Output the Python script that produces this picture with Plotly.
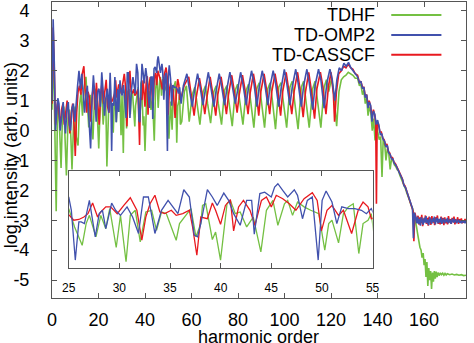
import numpy as np
import plotly.graph_objects as go

# ---------------- data: (harmonic order, log10 intensity) ----------------
tdhf_onset = [(0, 0.7), (0.55, 2.75), (1.1, 0.6), (1.8, -2.7), (2.4, 0.9), (3.0, 0.6), (3.9, -1.25),
              (4.5, 0.5), (5.1, 0.8), (5.6, -0.1), (6.2, -1.5), (6.9, 0.4), (7.5, 0.7), (8.1, -0.2),
              (8.6, -1.3), (9.3, 0.3), (9.9, 0.8), (10.4, -0.2), (11.2, -0.5), (11.8, 0.8), (12.5, 1.3),
              (13.1, 0.5), (13.8, 1.4), (14.6, 1.8), (15.2, 0.9), (15.8, 0.1), (16.4, 1.2), (17.0, 0.6),
              (17.6, -0.3), (18.3, 1.1), (18.9, 1.4), (19.5, 0.5), (20.1, -0.6), (20.8, 1.0), (21.4, 1.3),
              (22.0, 0.2), (22.6, 0.9), (23.1, 1.1), (23.6, -1.2), (24.3, 0.6)]
tdhf_mid = [(25.0, 1.45), (25.58, 0.69), (26.33, -0.07), (26.72, 0.83), (27.04, 1.17), (27.69, 0.28),
            (28.17, 1.17), (28.66, 0.62), (29.05, 1.45), (29.69, -0.16), (30.11, 1.17), (30.66, -0.75),
            (31.08, 1.17), (31.57, 1.38), (32.06, 0.07), (32.61, 1.31), (33.19, 1.38), (33.67, 0.55),
            (34.16, 1.31), (34.64, 1.24), (35.61, 0.14), (35.94, 0.83), (36.42, 1.10), (37.07, 1.45),
            (37.56, 0.28), (38.04, 0.83), (38.21, 1.58), (38.53, 1.65), (39.18, 0.17), (39.5, 0.48),
            (39.99, -0.68), (40.63, 1.65), (40.96, 1.79), (41.44, 1.24), (41.93, 1.31), (42.57, 0.69),
            (43.22, 1.10), (43.97, -0.34), (44.52, 1.38), (45.16, 1.79), (45.65, 0.76), (46.3, 1.65),
            (46.62, 1.79), (47.1, 1.17), (47.59, 1.72), (48.24, 1.52), (48.89, 1.38), (49.69, 1.24),
            (50.28, -0.27), (50.67, 0.83), (50.99, 0.97), (51.64, 0.03), (52.12, 1.24), (52.61, 1.52),
            (53.09, 1.65), (53.64, -0.41), (54.06, 0.83), (54.55, 0.97), (54.87, 1.24)]
tdhf_plateau = [(55.2, 0.2), (55.8, 0.3), (56.9, 1.3), (57.8, 1.5), (59.0, 0.3), (60.3, 1.2), (61.4, 1.45),
                (62.3, 0.9), (63.6, 0.2), (65.0, 1.3), (66.0, 1.5), (66.9, 0.9), (68.2, 0.25), (69.6, 1.3),
                (70.6, 1.5), (71.5, 0.9), (72.9, 0.2), (74.2, 1.35), (75.2, 1.5), (76.1, 0.95), (77.5, 0.15),
                (78.8, 1.35), (79.8, 1.55), (80.7, 1.0), (82.1, 0.2), (83.5, 1.35), (84.5, 1.55), (85.4, 1.0),
                (86.8, 0.1), (88.1, 1.4), (89.1, 1.6), (90.0, 1.0), (91.4, 0.1), (92.8, 1.4), (93.8, 1.6),
                (94.7, 1.05), (96.1, 0.05), (97.5, 1.45), (98.5, 1.6), (99.4, 1.0), (100.9, 0.1), (102.3, 1.45),
                (103.3, 1.65), (104.2, 1.05), (105.8, 0.05), (107.2, 1.45), (108.2, 1.65), (109.1, 1.05),
                (110.6, 0.1), (112.1, 1.4), (113.1, 1.65), (114.0, 1.1), (115.6, 0.1), (117.0, 1.45),
                (118.0, 1.7), (119.0, 1.3), (120.2, 1.75), (121.2, 1.2), (122.4, 0.15), (123.4, 1.3),
                (124.4, 1.7), (125.4, 1.8), (126.4, 1.85), (127.4, 1.95), (128.4, 1.9), (129.4, 1.85),
                (130.4, 1.75)]
tdhf_cutoff = [(131.4, 1.75), (132.2, 1.5), (132.8, 1.55), (133.5, 1.2), (134.1, 1.35), (134.7, 0.9),
               (135.3, 1.1), (135.9, 0.5), (136.5, 0.8), (137.1, 0.6), (137.7, 0.0), (138.3, 0.4),
               (138.9, -0.33), (139.5, 0.2), (140.1, 0.0), (140.7, -0.3), (141.3, -0.2), (141.9, -1.55),
               (142.4, -0.3), (143.0, -0.4), (143.6, -1.0), (144.2, -0.6), (144.8, -0.75), (145.4, -1.3),
               (146.0, -0.95), (146.6, -1.0), (147.2, -1.15), (147.8, -1.2), (148.4, -1.3), (149.0, -1.35),
               (149.6, -1.5), (150.2, -1.6), (150.8, -1.7), (151.4, -1.85), (152.0, -1.95), (152.6, -2.1),
               (153.2, -2.2), (153.8, -2.35), (154.4, -2.5), (155.0, -2.6), (155.6, -2.8), (156.2, -3.0),
               (156.7, -3.2), (157.2, -3.45), (157.7, -3.7), (158.2, -3.9), (158.7, -4.0), (159.1, -4.25),
               (159.6, -4.1), (160.0, -4.5), (160.4, -4.3), (160.8, -4.9), (161.2, -4.4), (161.6, -5.2),
               (162.0, -4.6), (162.4, -5.0), (162.8, -4.7), (163.2, -5.3), (163.6, -4.75), (164.0, -5.05),
               (164.4, -4.7), (164.8, -4.95), (165.2, -4.72), (165.6, -4.9), (166.0, -4.75), (166.5, -4.85),
               (167.0, -4.76), (167.5, -4.82), (168.0, -4.77), (168.5, -4.84), (169.0, -4.78), (169.5, -4.83),
               (170.0, -4.79), (171.0, -4.82), (172.0, -4.8), (173.0, -4.83), (174.0, -4.81), (175.0, -4.84),
               (176.0, -4.82), (177.0, -4.85), (178.0, -4.84)]

omp2_onset = [(0, 1.0), (0.5, 3.72), (1.0, 2.2), (1.5, 0.0), (2.0, 0.6), (2.5, 1.08), (3.0, 0.9), (3.5, 0.0),
              (4.2, 0.5), (4.8, 0.95), (5.3, 0.4), (5.8, -0.1), (6.4, 0.7), (7.0, 0.95), (7.5, 0.2), (8.0, 0.0),
              (8.6, 0.75), (9.2, 0.9), (9.8, 0.3), (10.4, 1.0), (11.0, 1.5), (11.6, 2.0), (12.2, 1.4),
              (12.8, 1.9), (13.4, 1.3), (14.0, 0.6), (14.6, 1.2), (15.2, 1.5), (15.8, 0.5), (16.6, -0.6),
              (17.2, 1.0), (17.8, 1.85), (18.4, 1.2), (19.0, 0.3), (19.6, 1.3), (20.2, 1.4), (20.8, 0.8),
              (21.4, 1.95), (22.0, 1.3), (22.6, 0.5), (23.2, 1.1), (23.8, 1.4), (24.4, 0.6)]
omp2_mid = [(25.0, 1.93), (25.26, 1.38), (25.65, -0.68), (26.0, 0.9), (26.23, 0.90), (26.55, 0.83),
            (27.04, 1.79), (27.62, 0.28), (28.01, 1.24), (28.33, 1.38), (28.66, 0.62), (29.24, 1.68),
            (29.63, 1.38), (30.11, 1.17), (30.76, 1.52), (31.31, 1.10), (31.89, 0.42), (32.38, 1.93),
            (32.86, 1.93), (33.51, 0.42), (34.16, 1.38), (34.81, 1.79), (35.29, 1.52), (35.78, 1.24),
            (36.36, 2.23), (36.91, 1.93), (37.39, 0.35), (37.72, 0.28), (38.04, 0.83), (38.69, 2.23),
            (39.18, 1.93), (39.66, 1.58), (40.31, 2.09), (40.79, 1.79), (41.28, 1.24), (41.93, 0.76),
            (42.57, 1.79), (43.06, 1.79), (43.32, 0.39), (43.87, 2.07), (44.35, 2.13), (45.0, 1.93),
            (45.33, 2.34), (45.65, 2.48), (46.13, 2.20), (46.62, 1.93), (47.27, 2.23), (47.59, 2.0),
            (48.08, 1.03), (48.56, 1.79), (49.05, 1.93), (49.63, -0.68), (50.02, 1.79), (50.41, 2.18),
            (50.99, 1.72), (51.47, 0.83), (51.96, 1.52), (52.61, 1.45), (53.25, 1.45), (53.9, 1.38),
            (54.39, 1.24), (54.87, 1.45)]
omp2_plateau = [(55.5, 0.9), (56.5, 1.5), (58.0, 1.9), (59.0, 1.4), (60.3, 0.8), (61.2, 1.3), (62.6, 1.9),
                (63.6, 1.5), (64.9, 0.85), (65.8, 1.3), (67.2, 1.95), (68.2, 1.5), (69.6, 0.8), (70.5, 1.3),
                (71.9, 1.9), (72.9, 1.5), (74.2, 0.85), (75.1, 1.35), (76.5, 1.95), (77.5, 1.5), (78.8, 0.9),
                (79.7, 1.3), (81.1, 1.95), (82.1, 1.55), (83.5, 0.85), (84.4, 1.4), (85.8, 2.0), (86.8, 1.6),
                (88.1, 0.8), (89.0, 1.4), (90.4, 2.0), (91.4, 1.6), (92.8, 0.85), (93.7, 1.45), (95.1, 2.0),
                (96.1, 1.6), (97.5, 0.8), (98.5, 1.4), (99.9, 2.05), (100.9, 1.6), (102.3, 0.85), (103.3, 1.45),
                (104.8, 2.05), (105.8, 1.6), (107.2, 0.8), (108.2, 1.5), (109.6, 2.05), (110.6, 1.6),
                (112.1, 0.7), (113.1, 1.5), (114.6, 2.05), (115.6, 1.7), (117.0, 0.75), (118.2, 1.6),
                (119.5, 2.05), (120.5, 1.7), (121.6, 1.0), (122.5, 1.7), (123.5, 2.1), (124.5, 2.0),
                (125.5, 2.25), (126.5, 2.15), (127.5, 2.28), (128.5, 2.1), (129.5, 2.0), (130.5, 1.9)]
omp2_cutoff = [(131.4, 1.8), (132.2, 1.6), (132.8, 1.65), (133.5, 1.4), (134.1, 1.45), (134.7, 1.1),
               (135.3, 1.2), (135.9, 0.75), (136.4, 0.95), (137.0, 0.85), (137.6, 0.3), (138.2, 0.65),
               (138.8, 0.55), (139.4, 0.2), (140.0, 0.35), (140.6, 0.15), (141.2, -0.15), (141.8, -0.1),
               (142.4, -0.3), (143.0, -0.35), (143.6, -0.55), (144.2, -0.5), (144.8, -0.75), (145.4, -0.8),
               (146.0, -0.95), (146.6, -0.95), (147.2, -1.1), (147.8, -1.15), (148.4, -1.25), (149.0, -1.35),
               (149.6, -1.45), (150.2, -1.6), (150.8, -1.65), (151.4, -1.85), (152.0, -1.9), (152.6, -2.05),
               (153.2, -2.2), (153.8, -2.3), (154.4, -2.5), (155.0, -2.6), (155.4, -3.6), (155.8, -2.75),
               (156.3, -2.9), (156.8, -3.1)]
omp2_tail = [-2.88, -3.12, -2.95, -3.18, -2.9, -3.05, -3.15, -2.92, -3.08, -2.86, -3.1, -2.98, -3.16, -2.9,
             -3.04, -3.12, -2.94, -3.06, -2.88, -3.14, -3.0, -2.92, -3.1, -2.96, -3.08, -2.9, -3.12, -3.0,
             -2.94, -3.1, -2.98, -3.06, -2.92, -3.1, -3.02, -2.96, -3.12, -3.0, -2.94, -3.08, -3.02, -2.96,
             -3.1, -3.04, -2.98, -3.08, -3.02, -3.1, -3.0, -3.06, -3.04, -3.1, -3.02]

casscf_onset = [(0, 0.9), (0.5, 3.45), (1.0, 2.0), (1.5, 0.2), (2.0, 0.7), (2.5, 1.0), (3.0, 0.6), (3.5, 0.1),
                (4.1, 0.7), (4.7, 0.9), (5.3, 0.2), (5.9, 0.6), (6.5, 1.0), (7.1, 0.5), (7.7, -0.1), (8.3, 0.6),
                (8.9, 0.9), (9.5, 0.2), (10.0, -0.85), (10.6, 0.6), (11.2, 1.3), (11.8, 1.5), (12.4, 1.2),
                (13.0, 1.9), (13.7, 2.15), (14.3, 1.3), (14.9, 0.6), (15.5, 1.3), (16.1, 1.1), (16.7, 0.3),
                (17.3, 1.2), (17.9, 1.5), (18.5, 0.7), (19.1, 1.6), (19.7, 1.0), (20.3, 0.2), (20.9, 1.2),
                (21.5, 1.6), (22.1, 0.9), (22.7, 1.4), (23.3, 1.7), (23.9, 0.8), (24.5, 0.6)]
casscf_mid = [(25.0, 1.2), (25.5, 0.97), (26.0, 1.0), (26.5, 1.1), (26.9, 1.24), (27.36, 1.68), (27.85, 1.10),
              (28.17, 1.31), (28.66, 1.52), (29.14, 1.52), (29.79, 1.24), (30.44, 1.58), (31.08, 1.90),
              (31.73, 1.38), (32.22, 0.14), (32.61, 1.10), (33.03, 1.65), (33.51, 2.00), (34.0, 1.31),
              (34.48, 1.24), (35.13, 1.38), (35.61, 1.17), (36.26, 1.24), (36.91, 1.38), (37.23, 0.69),
              (37.65, -0.48), (38.04, 1.10), (38.69, 1.03), (39.18, 1.68), (39.5, 1.38), (39.99, 0.80),
              (40.47, 1.58), (40.96, 1.82), (41.28, 0.53), (41.77, 1.52), (42.25, 1.79), (42.9, 1.38),
              (43.38, 0.76), (44.03, 1.79), (44.52, 1.93), (45.0, 1.52), (45.49, 2.0), (46.13, 1.86),
              (46.78, 1.65), (47.43, 1.38), (48.24, 1.86), (49.05, 2.11), (49.53, 1.79), (49.95, 0.53),
              (50.5, 1.38), (50.99, 1.58), (51.64, 1.17), (52.12, 1.38), (52.93, 0.42), (53.58, 1.38),
              (54.06, 1.72), (54.55, 1.52), (54.87, 1.03)]
casscf_plateau = [(55.5, 1.1), (56.8, 1.5), (58.8, 1.8), (59.8, 1.3), (61.1, 0.5), (62.0, 1.1), (63.4, 1.75),
                  (64.4, 1.3), (65.7, 0.55), (66.6, 1.1), (68.0, 1.8), (69.0, 1.3), (70.4, 0.5), (71.3, 1.2),
                  (72.7, 1.8), (73.7, 1.3), (75.0, 0.55), (75.9, 1.2), (77.3, 1.85), (78.3, 1.35), (79.6, 0.6),
                  (80.5, 1.2), (81.9, 1.85), (82.9, 1.4), (84.3, 0.55), (85.2, 1.25), (86.6, 1.9), (87.6, 1.45),
                  (88.9, 0.5), (89.8, 1.3), (91.2, 1.9), (92.2, 1.4), (93.6, 0.55), (94.5, 1.3), (95.9, 1.9),
                  (96.9, 1.45), (98.3, 0.5), (99.2, 1.3), (100.7, 1.95), (101.7, 1.4), (103.1, 0.55),
                  (104.1, 1.3), (105.6, 1.95), (106.6, 1.4), (108.0, 0.45), (109.0, 1.3), (110.4, 1.95),
                  (111.4, 1.4), (112.9, 0.4), (113.9, 1.4), (115.4, 1.95), (116.4, 1.5), (117.8, 0.55),
                  (118.9, 1.5), (120.0, 1.95), (121.0, 1.2), (121.5, 0.3), (122.3, 1.3), (123.3, 1.9),
                  (124.4, 2.0), (125.4, 2.15), (126.4, 2.1), (127.4, 2.22), (128.4, 2.1), (129.4, 2.05),
                  (130.4, 1.9)]
casscf_cutoff = [(131.4, 1.85), (132.2, 1.6), (132.8, 1.65), (133.5, 1.45), (134.1, 1.45), (134.7, 1.15),
                 (135.3, 1.2), (135.9, 0.85), (136.4, 1.0), (137.0, 0.8), (137.6, 0.45), (138.2, 0.7),
                 (138.8, 0.5), (139.2, 0.2), (139.5, -2.45), (139.8, 0.2), (140.4, 0.2), (141.0, -0.05),
                 (141.6, -0.05), (142.2, -0.25), (142.8, -0.3), (143.4, -0.5), (144.0, -0.45), (144.6, -0.7),
                 (145.2, -0.75), (145.8, -0.9), (146.4, -0.9), (147.0, -1.05), (147.6, -1.1), (148.2, -1.2),
                 (148.8, -1.3), (149.4, -1.4), (150.0, -1.55), (150.6, -1.6), (151.2, -1.8), (151.8, -1.85),
                 (152.4, -2.0), (153.0, -2.15), (153.6, -2.25), (154.2, -2.45), (154.8, -2.55), (155.3, -2.7),
                 (155.6, -3.7), (156.0, -2.75), (156.5, -2.9), (157.0, -3.0)]
casscf_tail = [-2.85, -3.15, -2.9, -3.1, -2.82, -3.2, -2.95, -3.05, -2.84, -3.12, -2.92, -3.18, -2.88, -3.02,
               -3.15, -2.86, -3.08, -2.94, -3.16, -2.9, -3.04, -2.84, -3.12, -2.98, -3.14, -2.88, -3.06, -2.92,
               -3.16, -2.9, -3.1, -2.96, -3.14, -2.86, -3.08, -2.96, -3.12, -2.92, -3.06, -2.88, -3.14, -2.98,
               -3.04, -2.9, -3.12, -2.96, -3.08, -2.94, -3.1, -3.0, -3.08, -2.96, -3.06]

main_xticks = [0, 20, 40, 60, 80, 100, 120, 140, 160]
main_yticks = [-5, -4, -3, -2, -1, 0, 1, 2, 3, 4]
inset_xticks = [25, 30, 35, 40, 45, 50, 55]

names = ["TDHF", "TD-OMP2", "TD-CASSCF"]
colors = {"TDHF": "#74c043", "TD-OMP2": "#4151ad", "TD-CASSCF": "#e8191f"}


def assemble(segments, tail=None, tail_start=None):
    h = [p[0] for seg in segments for p in seg]
    v = [p[1] for seg in segments for p in seg]
    if tail is not None:
        h += list(np.linspace(tail_start, 178.0, len(tail)))
        v += list(tail)
    return np.array(h), np.array(v)


series = {
    "TDHF": assemble([tdhf_onset, tdhf_mid, tdhf_plateau, tdhf_cutoff]),
    "TD-OMP2": assemble([omp2_onset, omp2_mid, omp2_plateau, omp2_cutoff], omp2_tail, 157.2),
    "TD-CASSCF": assemble([casscf_onset, casscf_mid, casscf_plateau, casscf_cutoff], casscf_tail, 157.4),
}

# ---------------- geometry ----------------
W, H = 474, 343
ML, MR, MT, MB = 52, 1, 1, 45
PW, PH = W - ML - MR, H - MT - MB


def fx(x):
    return (x - ML) / PW


def fy(y):
    return (H - MB - y) / PH


FONT = "Liberation Sans, Arial, sans-serif"
FRAME = "#555555"

fig = go.Figure()
draw_order = ["TDHF", "TD-CASSCF", "TD-OMP2"]
for nm in draw_order:
    h, v = series[nm]
    fig.add_trace(go.Scatter(x=h, y=v, mode="lines", line=dict(color=colors[nm], width=1.6),
                             showlegend=False, xaxis="x", yaxis="y"))
for nm in draw_order:
    h, v = series[nm]
    sel = (h >= 24) & (h <= 56)
    fig.add_trace(go.Scatter(x=h[sel], y=v[sel], mode="lines", line=dict(color=colors[nm], width=1.3),
                             showlegend=False, xaxis="x2", yaxis="y2"))

axis_common = dict(showgrid=False, zeroline=False, showline=True, linecolor=FRAME, linewidth=1,
                   mirror="ticks", ticks="inside", ticklen=5, tickcolor=FRAME, tickwidth=1)

fig.update_layout(
    width=W, height=H,
    margin=dict(l=ML, r=MR, t=MT, b=MB, pad=0),
    paper_bgcolor="white", plot_bgcolor="white",
    font=dict(family=FONT, color="black"),
    xaxis=dict(range=[0, PW / 2.365], tickvals=main_xticks, ticktext=[str(t) for t in main_xticks],
               tickfont=dict(size=18), ticklabelstandoff=5, domain=[0, 1], **axis_common),
    yaxis=dict(range=[-5.6, 4.3], tickvals=main_yticks, ticktext=[str(t) for t in main_yticks],
               tickfont=dict(size=18), ticklabelstandoff=18, domain=[0, 1], **axis_common),
    xaxis2=dict(range=[25, 55], tickvals=inset_xticks, ticktext=[str(t) for t in inset_xticks],
                tickfont=dict(size=12), ticklabelstandoff=9, anchor="y2",
                domain=[fx(69), fx(378)], **axis_common),
    yaxis2=dict(range=[-1, 3], showticklabels=False, anchor="x2", domain=[fy(267.7), fy(170.7)],
                showgrid=False, zeroline=False, showline=True, linecolor=FRAME, linewidth=1,
                mirror=True, ticks=""),
)

# axis titles
fig.add_annotation(text="log intensity (arb. units)", textangle=-90, xref="paper", yref="paper",
                   x=fx(11), y=fy(155), xanchor="center", yanchor="middle", showarrow=False,
                   font=dict(size=18, family=FONT))
fig.add_annotation(text="harmonic order", xref="paper", yref="paper", x=fx(262), y=fy(337),
                   xanchor="center", yanchor="middle", showarrow=False, font=dict(size=18, family=FONT))

# key: right-aligned labels with line samples to their right
for i, nm in enumerate(names):
    yy = 14 + 20 * i
    fig.add_annotation(text=nm, xref="paper", yref="paper", x=fx(383), y=fy(yy), xanchor="right",
                       yanchor="middle", showarrow=False, font=dict(size=18, family=FONT))
    fig.add_shape(type="line", xref="paper", yref="paper", x0=fx(397), x1=fx(448), y0=fy(yy), y1=fy(yy),
                  line=dict(color=colors[nm], width=2))

fig.write_html("out.html")
